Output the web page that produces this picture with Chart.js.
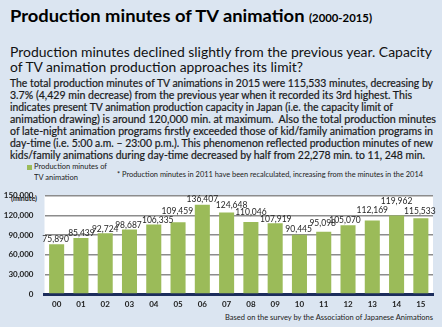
<!DOCTYPE html>
<html>
<head>
<meta charset="utf-8">
<script src="https://cdn.jsdelivr.net/npm/chart.js@4/dist/chart.umd.min.js"></script>
<style>
  html, body { margin: 0; padding: 0; }
  #wrap { position: relative; width: 442px; height: 327px; background: #dbe5f1; overflow: hidden; font-family: Lato, "Open Sans", sans-serif; }
  .t { position: absolute; white-space: nowrap; transform-origin: 0 50%; }
  .title { font-weight: 700; font-size: 17px; line-height: 17px; color: #000; }
  .title small { font-size: 10.5px; }
  .sub { font-size: 13.5px; line-height: 14px; color: #111; }
  .body { font-size: 10.5px; line-height: 11px; font-weight: 400; color: #1a1a1a; -webkit-text-stroke: 0.2px #1a1a1a; }
  .tiny { font-size: 7.5px; line-height: 8px; color: #222; }
  #chart { position: absolute; left: 0; top: 180px; }
</style>
</head>
<body>
<div id="wrap">
  <div class="t title" style="left:10px;top:7px" data-w="362">Production minutes of TV animation <small>(2000-2015)</small></div>

  <div class="t sub" style="left:10px;top:45px" data-w="422">Production minutes declined slightly from the previous year. Capacity</div>
  <div class="t sub" style="left:10px;top:59.5px" data-w="293">of TV animation production approaches its limit?</div>

  <div class="t body" style="left:10px;top:77.8px" data-w="423">The total production minutes of TV animations in 2015 were 115,533 minutes, decreasing by</div>
  <div class="t body" style="left:10px;top:89.8px" data-w="402">3.7% (4,429 min decrease) from the previous year when it recorded its 3rd highest. This</div>
  <div class="t body" style="left:10px;top:101.8px" data-w="383">indicates present TV animation production capacity in Japan (i.e. the capacity limit of</div>
  <div class="t body" style="left:10px;top:113.8px" data-w="426">animation drawing) is around 120,000 min. at maximum.&nbsp; Also the total production minutes</div>
  <div class="t body" style="left:10px;top:125.8px" data-w="423">of late-night animation programs firstly exceeded those of kid/family animation programs in</div>
  <div class="t body" style="left:10px;top:137.8px" data-w="423">day-time (i.e. 5:00 a.m. – 23:00 p.m.). This phenomenon reflected production minutes of new</div>
  <div class="t body" style="left:10px;top:149.8px" data-w="415">kids/family animations during day-time decreased by half from 22,278 min. to 11, 248 min.</div>

  <div style="position:absolute;left:27px;top:165px;width:5px;height:5px;background:#9bbb59"></div>
  <div class="t tiny" style="left:34px;top:163px" data-w="73">Production minutes of</div>
  <div class="t tiny" style="left:34px;top:174px" data-w="44">TV animation</div>
  <div class="t tiny" style="left:117px;top:171px" data-w="306">* Production minutes in 2011 have been recalculated, increasing from the minutes in the 2014</div>

  <div class="t tiny" style="left:11px;top:193.5px;font-weight:700;font-size:8px" data-w="26">(minute)</div>
  <div class="t tiny" id="source" style="top:314px" data-w="208" data-right="433">Based on the survey by the Association of Japanese Animations</div>

  <canvas id="chart" width="442" height="147"></canvas>
</div>

<script>
// Production minutes per year (TV animation)
const years = ['00', '01', '02', '03', '04', '05', '06', '07', '08', '09', '10', '11', '12', '13', '14', '15'];
const minutes = [75890, 85439, 92724, 98687, 106335, 109459, 136407, 124648, 110046, 107919, 90445, 95098, 105070, 112169, 119962, 115533];
const yTicks = [0, 30000, 60000, 90000, 120000, 150000];

// squeeze each text line to its measured width
document.querySelectorAll('[data-w]').forEach(el => {
  const natural = el.getBoundingClientRect().width;
  const target = +el.dataset.w;
  el.style.transform = 'scaleX(' + (target / natural) + ')';
  if (el.dataset.right) el.style.left = (+el.dataset.right - target) + 'px';
});

const fmt = v => v.toLocaleString('en-US');

// value labels: small hand nudges [dx, dy above bar top] in px
const labelNudge = [[-1,4.7],[0.5,4.6],[0,3.7],[-1,4],[4,4],[-0.7,11],[0,5.3],[5,7.3],[0,9.7],[0.6,4],[-0.8,5.7],[-1,8],[-3,5.3],[0,10.7],[0,14],[-1,7]];

const plotBg = {
  id: 'plotBg',
  beforeDraw(chart) {
    const a = chart.chartArea, c = chart.ctx;
    c.save();
    c.fillStyle = '#ffffff';
    c.fillRect(a.left, a.top, a.right - a.left, a.bottom - a.top);
    c.restore();
  }
};

const valueLabels = {
  id: 'valueLabels',
  afterDatasetsDraw(chart) {
    const c = chart.ctx;
    const bars = chart.getDatasetMeta(0).data;
    c.save();
    c.font = '8.5px Lato, sans-serif';
    c.fillStyle = '#262626';
    c.textAlign = 'center';
    c.textBaseline = 'middle';
    bars.forEach((bar, i) => {
      const n = labelNudge[i] || [0, 5];
      c.fillText(fmt(minutes[i]), bar.x + n[0], bar.y - n[1]);
    });
    c.restore();
  }
};

new Chart(document.getElementById('chart'), {
  type: 'bar',
  data: {
    labels: years,
    datasets: [{
      label: 'Production minutes of TV animation',
      data: minutes,
      backgroundColor: '#9bbb59',
      borderWidth: 0,
      barPercentage: 0.62,
      categoryPercentage: 1
    }]
  },
  options: {
    responsive: false,
    devicePixelRatio: 1,
    animation: false,
    layout: { padding: { top: 6, right: 9, left: 0, bottom: 0 } },
    plugins: { legend: { display: false }, tooltip: { enabled: false } },
    scales: {
      x: {
        afterFit: s => { s.height = 33; },
        grid: { display: false, drawTicks: false },
        border: { display: true, color: '#1c2d5c', width: 3 },
        ticks: { padding: 6, color: '#222', font: { family: 'Lato', size: 8, weight: 'bold' } }
      },
      y: {
        min: 0, max: 150000,
        afterFit: s => { s.width = 44.5; },
        afterBuildTicks: s => { s.ticks = yTicks.map(v => ({ value: v })); },
        grid: { color: '#8c8c8c', lineWidth: 1.5, drawTicks: false },
        border: { display: false },
        ticks: { padding: 11, color: '#222', font: { family: 'Lato', size: 8, weight: 'bold' }, callback: v => fmt(v) }
      }
    }
  },
  plugins: [plotBg, valueLabels]
});
</script>
</body>
</html>
